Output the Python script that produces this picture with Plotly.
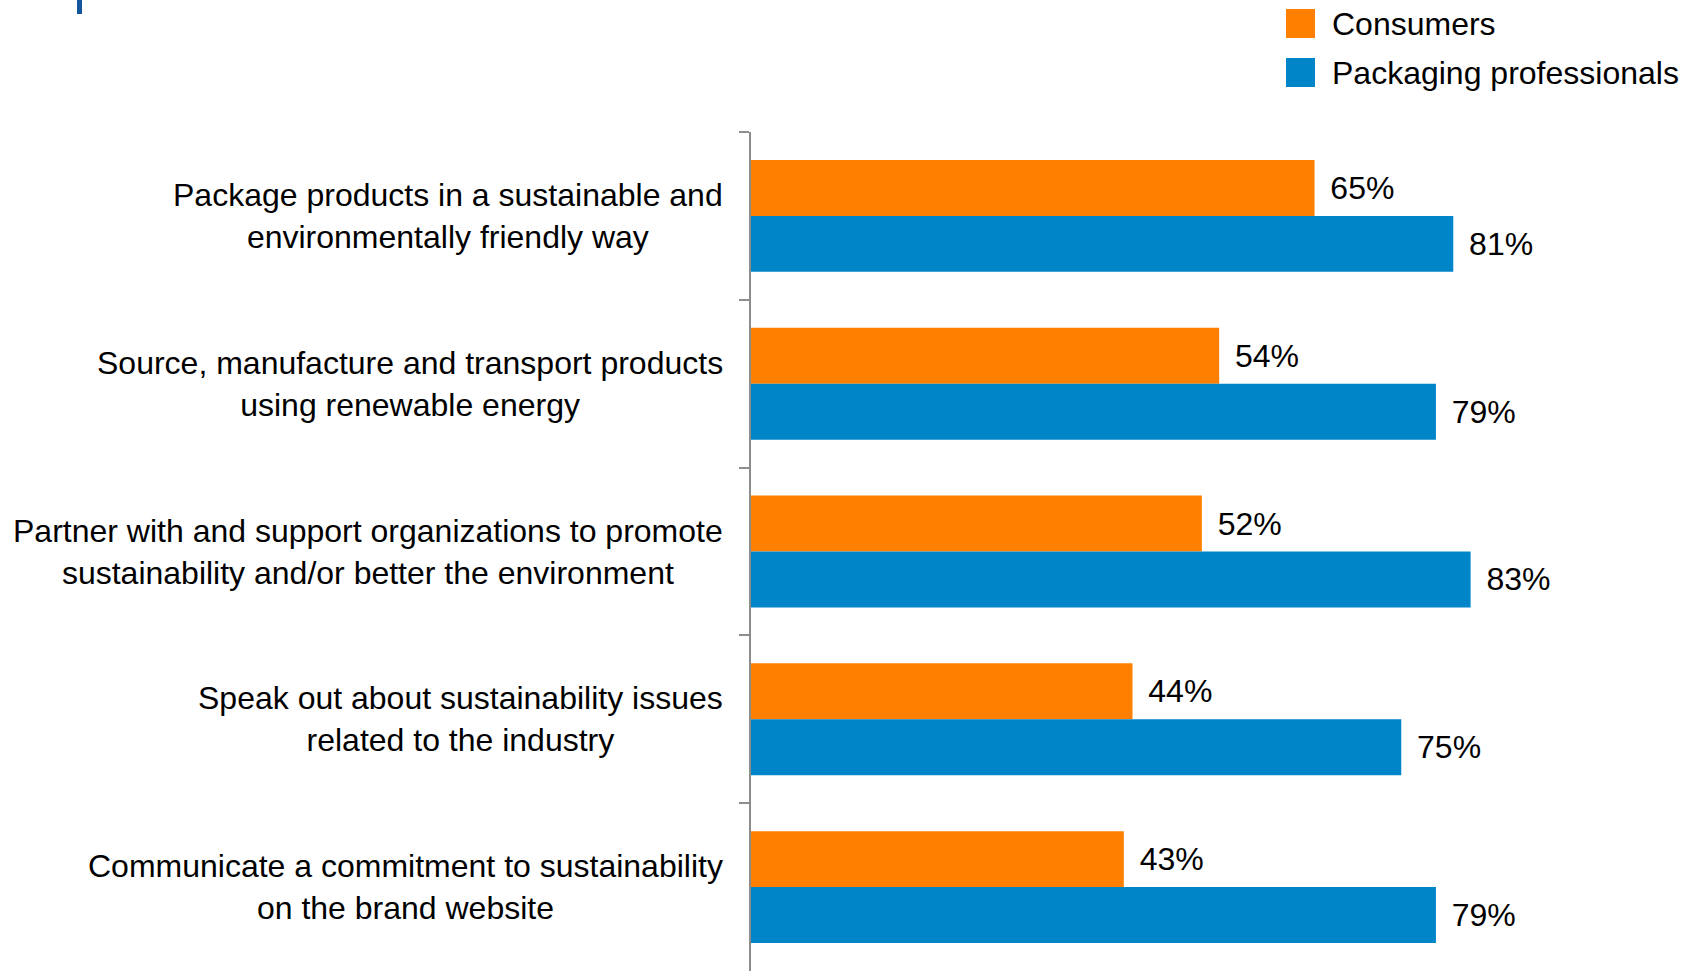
import plotly.graph_objects as go

# Survey categories (top to bottom) and shares for each audience
categories = [
    "Package products in a sustainable and<br>environmentally friendly way",
    "Source, manufacture and transport products<br>using renewable energy",
    "Partner with and support organizations to promote<br>sustainability and/or better the environment",
    "Speak out about sustainability issues<br>related to the industry",
    "Communicate a commitment to sustainability<br>on the brand website",
]
consumers = [65, 54, 52, 44, 43]
professionals = [81, 79, 83, 75, 79]
series_names = ["Consumers", "Packaging professionals"]

ORANGE = "#FF8000"
BLUE = "#0085C8"
AXIS_GREY = "#8C8C8C"
FONT = "Liberation Sans, Arial, sans-serif"

W, H = 1697, 972
L, R, T, B = 751, 1618, 132, 971  # plot-area edges in pixels


def px_x(px):
    return (px - L) / (R - L)


def px_y(py):
    return (B - py) / (B - T)


fig = go.Figure()
for name, vals, color in [(series_names[0], consumers, ORANGE),
                          (series_names[1], professionals, BLUE)]:
    fig.add_trace(go.Bar(
        name=name,
        orientation="h",
        y=categories,
        x=vals,
        marker=dict(color=color, line=dict(width=0)),
        texttemplate="\u2009\u2009%{x}%",
        textposition="outside",
        textfont=dict(family=FONT, size=32, color="#000000"),
        constraintext="none",
        cliponaxis=False,
        showlegend=False,
    ))

annotations = []
# Category labels, centred line-by-line and right-aligned against the axis
for cat in categories:
    annotations.append(dict(
        x=0, xref="paper", y=cat, yref="y",
        text=cat, showarrow=False,
        xanchor="right", yanchor="middle", align="center",
        xshift=-26,
        font=dict(family=FONT, size=32, color="#000000"),
    ))

# Legend drawn with large square swatches
shapes = []
legend_rows = [(series_names[0], ORANGE, 9, 38), (series_names[1], BLUE, 58, 87)]
for name, color, y0, y1 in legend_rows:
    shapes.append(dict(
        type="rect", xref="paper", yref="paper",
        x0=px_x(1286), x1=px_x(1315), y0=px_y(y1), y1=px_y(y0),
        fillcolor=color, line=dict(width=0),
    ))
    annotations.append(dict(
        x=px_x(1330), xref="paper", y=px_y((y0 + y1) / 2), yref="paper",
        text=name, showarrow=False, xanchor="left", yanchor="middle",
        font=dict(family=FONT, size=32, color="#000000"),
    ))

# Title accent bar at the top left
shapes.append(dict(
    type="rect", xref="paper", yref="paper",
    x0=px_x(77), x1=px_x(82), y0=px_y(14), y1=px_y(-5),
    fillcolor="#14559C", line=dict(width=0),
))

fig.update_layout(
    width=W, height=H,
    margin=dict(l=L, r=W - R, t=T, b=H - B, pad=0),
    paper_bgcolor="white", plot_bgcolor="white",
    barmode="group", bargap=0.333, bargroupgap=0,
    font=dict(family=FONT, size=32, color="#000000"),
    xaxis=dict(range=[0, 100], visible=False, fixedrange=True),
    yaxis=dict(
        type="category",
        categoryorder="array", categoryarray=categories,
        autorange="reversed",
        showticklabels=False,
        showline=True, linecolor=AXIS_GREY, linewidth=2,
        ticks="outside", tickson="boundaries",
        ticklen=10, tickwidth=2, tickcolor=AXIS_GREY,
        showgrid=False, zeroline=False,
    ),
    annotations=annotations,
    shapes=shapes,
    showlegend=False,
)

fig.write_html("out.html")
